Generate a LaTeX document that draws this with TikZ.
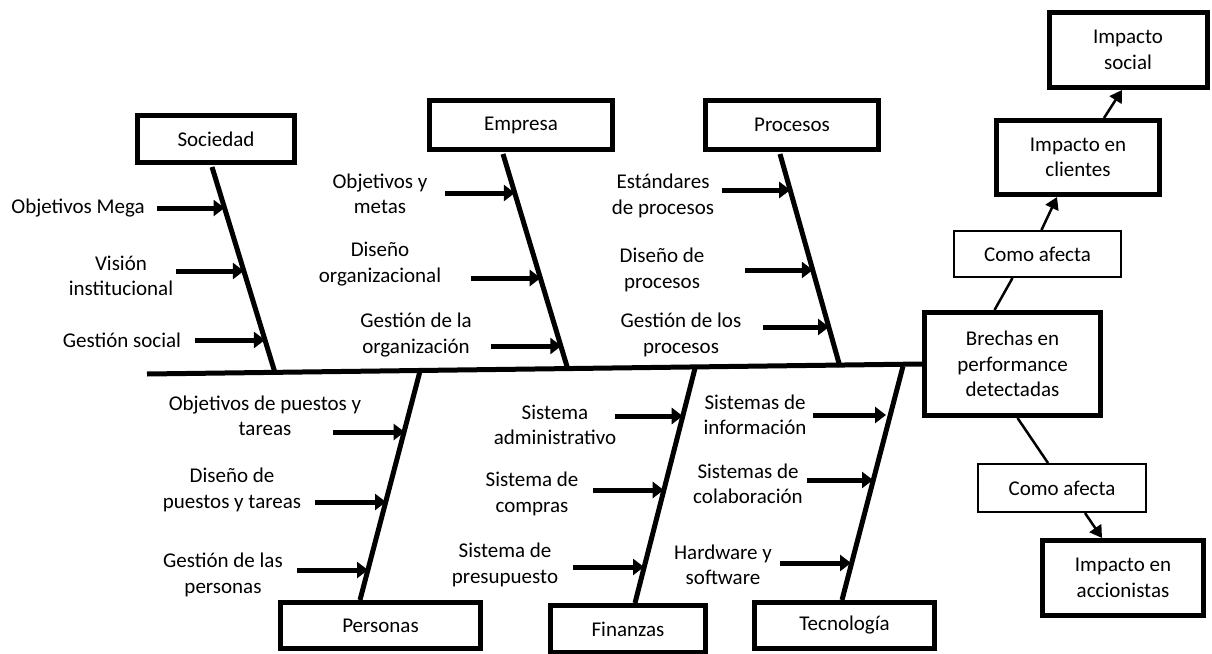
\documentclass[tikz,border=0pt]{standalone}
\usepackage{fontspec}
\setmainfont{Carlito}
\usetikzlibrary{arrows.meta,calc}
\begin{document}
\begin{tikzpicture}[x=1pt,y=-1pt,
  every node/.style={font=\fontsize{21}{25.5}\selectfont, align=center, inner sep=0pt},
  thickbox/.style={draw, line width=5pt, inner sep=0pt},
  thinbox/.style={draw, line width=2pt, inner sep=0pt},
  bone/.style={line width=5pt},
  cause/.style={line width=5pt, -{Triangle[length=11pt,width=16pt]}},
  link/.style={line width=2.5pt},
  linkarrow/.style={line width=2.5pt, -{Triangle[length=12pt,width=14pt]}}]
\useasboundingbox (0,0) rectangle (1212,653);

% category boxes
\node[thickbox, minimum width=157pt, minimum height=47pt] (soc) at (216,139) {Sociedad};
\node[thickbox, minimum width=183pt, minimum height=49pt] (emp) at (521,125) {Empresa};
\node[thickbox, minimum width=173pt, minimum height=49pt] (pro) at (792,125) {Procesos};
\node[thickbox, minimum width=200pt, minimum height=46pt] (per) at (380.5,625.5) {Personas};
\node[thickbox, minimum width=155pt, minimum height=47pt] (fin) at (628,629) {Finanzas};
\node[thickbox, minimum width=180pt, minimum height=46pt] (tec) at (844.5,625.5) {Tecnología};

% effect side
\node[thickbox, minimum width=176pt, minimum height=103pt] (bre) at (1012.5,364) {Brechas en\\performance\\detectadas};
\node[thinbox, minimum width=167pt, minimum height=46pt] (ca1) at (1037.5,254) {Como afecta};
\node[thickbox, minimum width=163pt, minimum height=74pt] (cli) at (1078,157.5) {Impacto en\\clientes};
\node[thickbox, minimum width=158pt, minimum height=75pt] (soci) at (1128,50) {Impacto\\social};
\node[thinbox, minimum width=168pt, minimum height=48pt] (ca2) at (1062,488) {Como afecta};
\node[thickbox, minimum width=161pt, minimum height=75pt] (acc) at (1123,578) {Impacto en\\accionistas};

% spine and bones
\coordinate (spL) at (147,374);
\draw[bone] (spL) -- (bre.west);
\coordinate (sT) at (212,167); \coordinate (sB) at (275,372.7);
\coordinate (eT) at (503,154); \coordinate (eB) at (568,369.7);
\coordinate (pT) at (780,154); \coordinate (pB) at (840,366.8);
\coordinate (rT) at (420,371.2); \coordinate (rB) at (360,600);
\coordinate (fT) at (695,368.3); \coordinate (fB) at (635,603);
\coordinate (tT) at (903,366.2); \coordinate (tB) at (842,600);
\draw[bone] (sT) -- (sB);
\draw[bone] (eT) -- (eB);
\draw[bone] (pT) -- (pB);
\draw[bone] (rT) -- (rB);
\draw[bone] (fT) -- (fB);
\draw[bone] (tT) -- (tB);

% Sociedad causes
\node (s1) at (78,208) {Objetivos Mega};
\node (s2) at (121,276) {Visión\\institucional};
\node (s3) at (122,340) {Gestión social};
\coordinate (s1a) at (157,208); \coordinate (s1b) at (224.5,208);
\coordinate (s2a) at (176,271); \coordinate (s2b) at (243.8,271);
\coordinate (s3a) at (195,340); \coordinate (s3b) at (264.9,340);
\draw[cause] (s1a) -- (s1b);
\draw[cause] (s2a) -- (s2b);
\draw[cause] (s3a) -- (s3b);

% Empresa causes
\node (e1) at (380,194) {Objetivos y\\metas};
\node (e2) at (380,264) {Diseño\\organizacional};
\node (e3) at (416,335) {Gestión de la\\organización};
\coordinate (e1a) at (445,193); \coordinate (e1b) at (514.8,193);
\coordinate (e2a) at (471,278); \coordinate (e2b) at (540.7,278);
\coordinate (e3a) at (491,346); \coordinate (e3b) at (561.3,346);
\draw[cause] (e1a) -- (e1b);
\draw[cause] (e2a) -- (e2b);
\draw[cause] (e3a) -- (e3b);

% Procesos causes
\node (p1) at (663,196) {Estándares\\de procesos};
\node (p2) at (662,270) {Diseño de\\procesos};
\node (p3) at (681,335) {Gestión de los\\procesos};
\coordinate (p1a) at (722,190); \coordinate (p1b) at (790.2,190);
\coordinate (p2a) at (745,270); \coordinate (p2b) at (812.8,270);
\coordinate (p3a) at (763,327); \coordinate (p3b) at (829,327);
\draw[cause] (p1a) -- (p1b);
\draw[cause] (p2a) -- (p2b);
\draw[cause] (p3a) -- (p3b);

% Personas causes
\node (r1) at (265,416) {Objetivos de puestos y\\tareas};
\node (r2) at (232,490) {Diseño de\\puestos y tareas};
\node (r3) at (223,575) {Gestión de las\\personas};
\coordinate (r1a) at (333,432); \coordinate (r1b) at (404.6,432);
\coordinate (r2a) at (315,502); \coordinate (r2b) at (386,502);
\coordinate (r3a) at (297,570); \coordinate (r3b) at (368,570);
\draw[cause] (r1a) -- (r1b);
\draw[cause] (r2a) -- (r2b);
\draw[cause] (r3a) -- (r3b);

% Finanzas causes
\node (f1) at (555,425) {Sistema\\administrativo};
\node (f2) at (532,494) {Sistema de\\compras};
\node (f3) at (505,565) {Sistema de\\presupuesto};
\coordinate (f1a) at (615,416); \coordinate (f1b) at (682.7,416);
\coordinate (f2a) at (593,490); \coordinate (f2b) at (663.7,490);
\coordinate (f3a) at (573,567); \coordinate (f3b) at (644,567);
\draw[cause] (f1a) -- (f1b);
\draw[cause] (f2a) -- (f2b);
\draw[cause] (f3a) -- (f3b);

% Tecnologia causes
\node (t1) at (755,415) {Sistemas de\\información};
\node (t2) at (748,484) {Sistemas de\\colaboración};
\node (t3) at (723,565) {Hardware y\\software};
\coordinate (t1a) at (813,415); \coordinate (t1b) at (886,415);
\coordinate (t2a) at (807,480); \coordinate (t2b) at (873,480);
\coordinate (t3a) at (780,563); \coordinate (t3b) at (851,563);
\draw[cause] (t1a) -- (t1b);
\draw[cause] (t2a) -- (t2b);
\draw[cause] (t3a) -- (t3b);

% effect links
\draw[link] ([xshift=-18pt]bre.north) -- ([xshift=-25pt]ca1.south);
\draw[linkarrow] ([xshift=4pt]ca1.north) -- ([xshift=-21pt]cli.south);
\draw[linkarrow] ([xshift=26pt]cli.north) -- ([xshift=-6pt]soci.south);
\draw[link] ([xshift=5pt]bre.south) -- ([xshift=-14pt]ca2.north);
\draw[linkarrow] ([xshift=23pt]ca2.south) -- ([xshift=-21pt]acc.north);
\end{tikzpicture}
\end{document}
